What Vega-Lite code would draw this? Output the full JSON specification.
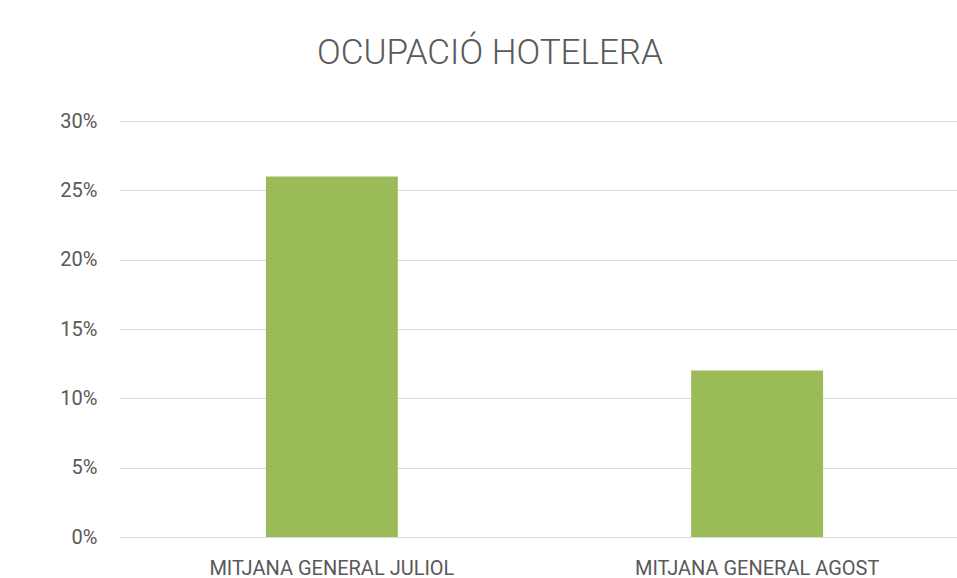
{
  "$schema": "https://vega.github.io/schema/vega-lite/v6.json",
  "autosize": {"type": "none"},
  "width": 838,
  "height": 416,
  "padding": {"left": 119, "top": 121, "right": 0, "bottom": 41},
  "background": "white",
  "title": {
    "text": "OCUPACIÓ HOTELERA",
    "font": "Roboto",
    "fontSize": 35,
    "fontWeight": 300,
    "color": "#595959",
    "anchor": "middle",
    "dx": -48,
    "offset": 40
  },
  "data": {
    "values": [
      {"categoria": "MITJANA GENERAL JULIOL", "ocupacio": 0.26},
      {"categoria": "MITJANA GENERAL AGOST", "ocupacio": 0.12}
    ]
  },
  "mark": {"type": "bar", "color": "#9bbb59"},
  "encoding": {
    "x": {
      "field": "categoria",
      "type": "nominal",
      "sort": null,
      "scale": {"range": [0, 851], "paddingInner": 0.6898, "paddingOuter": 0.3455},
      "axis": {
        "title": null,
        "labelAngle": 0,
        "ticks": false,
        "domain": false,
        "labelLimit": 0,
        "labelFont": "Roboto",
        "labelFontSize": 20,
        "labelColor": "#595959",
        "labelPadding": 21
      }
    },
    "y": {
      "field": "ocupacio",
      "type": "quantitative",
      "scale": {"domain": [0, 0.3], "nice": false},
      "axis": {
        "title": null,
        "values": [0, 0.05, 0.1, 0.15, 0.2, 0.25, 0.3],
        "format": ".0%",
        "ticks": false,
        "domain": false,
        "labelFont": "Roboto",
        "labelFontSize": 20,
        "labelColor": "#595959",
        "labelPadding": 22,
        "gridColor": "#d9d9d9",
        "gridWidth": 1
      }
    }
  },
  "config": {"view": {"stroke": null}}
}
